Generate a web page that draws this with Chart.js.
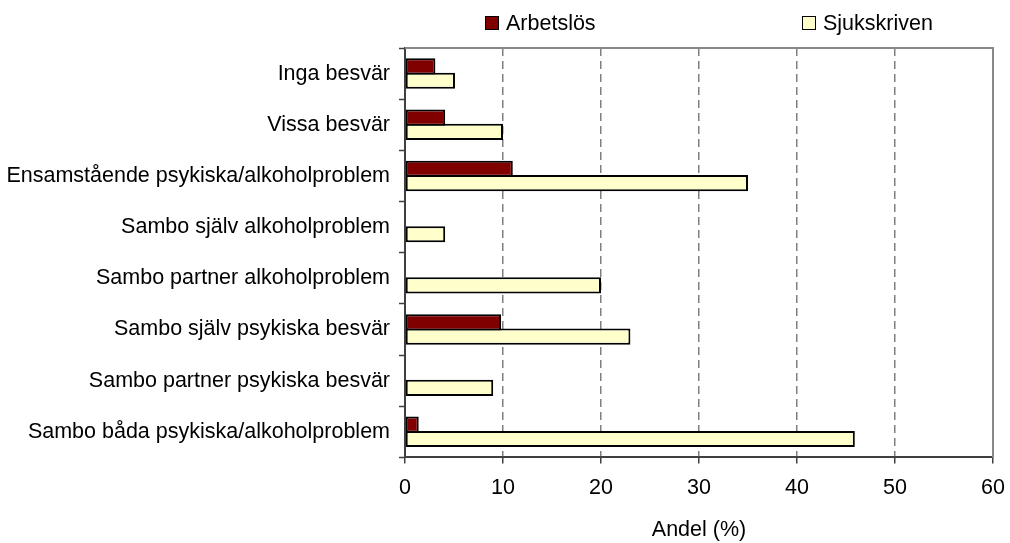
<!DOCTYPE html>
<html><head><meta charset="utf-8">
<script src="https://cdn.jsdelivr.net/npm/chart.js@4.4.1/dist/chart.umd.min.js"></script>
<style>
body{margin:0;background:#fff;}
#wrap{position:relative;width:1010px;height:543px;}
.lbox{position:absolute;width:12px;height:12px;border:1.5px solid #000;}
.ltxt{position:absolute;font:21.5px "Liberation Sans",Arial,sans-serif;color:#000;line-height:25px;white-space:nowrap;}
</style>
</head><body>
<div id="wrap"><canvas id="c" width="1010" height="543"></canvas></div>
<script>
const categories = ['Inga besvär','Vissa besvär','Ensamstående psykiska/alkoholproblem','Sambo själv alkoholproblem','Sambo partner alkoholproblem','Sambo själv psykiska besvär','Sambo partner psykiska besvär','Sambo båda psykiska/alkoholproblem'];
const seriesNames = ['Arbetslös','Sjukskriven'];
const arbetslos = [3.1, 4.1, 11.0, 0, 0, 9.8, 0, 1.4];
const sjukskriven = [5.1, 10.0, 35.0, 4.1, 20.0, 23.0, 9.0, 45.9];
const seriesColors = ['#800000','#FFFFCC'];
const xTitle = 'Andel (%)';

const FONT = '"Liberation Sans", Arial, sans-serif';
const FS = 21.5;

// HTML legend
const legendPos = [{box:485, top:16}, {box:802, top:16}];
const wrap = document.getElementById('wrap');
seriesNames.forEach((n,i)=>{
  const b = document.createElement('div');
  b.className='lbox';
  b.style.left = legendPos[i].box+'px';
  b.style.top = legendPos[i].top+'px';
  b.style.background = seriesColors[i];
  wrap.appendChild(b);
  const t = document.createElement('div');
  t.className='ltxt';
  t.style.left = (legendPos[i].box+21)+'px';
  t.style.top = '11px';
  t.textContent = n;
  wrap.appendChild(t);
});

const frame = {
  id:'frame',
  afterDraw(chart){
    const {ctx, chartArea:a} = chart;
    ctx.save();
    ctx.strokeStyle = '#888888';
    ctx.lineWidth = 2;
    ctx.beginPath();
    ctx.moveTo(a.left, a.top);
    ctx.lineTo(a.right, a.top);
    ctx.lineTo(a.right, a.bottom);
    ctx.stroke();
    ctx.restore();
  }
};

new Chart(document.getElementById('c'), {
  type:'bar',
  data:{
    labels: categories,
    datasets:[
      {label:seriesNames[0], data:arbetslos, backgroundColor:seriesColors[0], borderColor:'#000', borderWidth:2, borderSkipped:false, categoryPercentage:0.56, barPercentage:1.13},
      {label:seriesNames[1], data:sjukskriven, backgroundColor:seriesColors[1], borderColor:'#000', borderWidth:2, borderSkipped:false, categoryPercentage:0.56, barPercentage:1.13}
    ]
  },
  options:{
    indexAxis:'y',
    responsive:false,
    animation:false,
    devicePixelRatio:1,
    layout:{padding:{left:0, right:17, top:48, bottom:0}},
    plugins:{legend:{display:false}, tooltip:{enabled:false}},
    scales:{
      x:{
        min:0, max:60,
        afterFit(s){ s.paddingLeft = 0; s.paddingRight = 0; },
        ticks:{stepSize:10, color:'#000', font:{family:FONT, size:FS}, padding:12},
        grid:{
          color:(c)=> (c.tick && (c.tick.value===0 || c.tick.value===60)) ? 'rgba(0,0,0,0)' : '#7f7f7f',
          lineWidth:1.5,
          tickColor:'#404040', tickWidth:1.5, tickLength:6, drawTicks:true
        },
        border:{color:'#404040', width:2, dash:[8,5]},
        title:{display:true, text:xTitle, color:'#000', font:{family:FONT, size:FS}, padding:{top:4, bottom:0}}
      },
      y:{
        afterFit(s){ s.width = 405; },
        ticks:{color:'#000', font:{family:FONT, size:FS}, padding:9},
        grid:{drawOnChartArea:false, drawTicks:true, tickLength:6, tickColor:'#404040', tickWidth:1.5, offset:true},
        border:{color:'#404040', width:2}
      }
    }
  },
  plugins:[frame]
});
</script>
</body></html>
